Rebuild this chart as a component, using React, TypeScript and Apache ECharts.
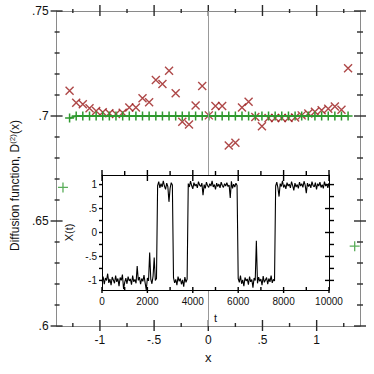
import React, { useEffect, useRef } from "react";
import * as echarts from "echarts";

// ---- main chart data ----
const X_BINS = [
  -1.28, -1.219, -1.158, -1.096, -1.035, -0.974, -0.913, -0.852, -0.79, -0.729,
  -0.668, -0.607, -0.546, -0.484, -0.423, -0.362, -0.301, -0.24, -0.178, -0.117,
  -0.056, 0.005, 0.066, 0.128, 0.189, 0.25, 0.311, 0.372, 0.434, 0.495,
  0.556, 0.617, 0.678, 0.74, 0.801, 0.862, 0.923, 0.984, 1.046, 1.107,
  1.168, 1.229, 1.29,
];
const RED_D2 = [
  0.712, 0.7063, 0.7056, 0.7037, 0.7024, 0.7018, 0.7013, 0.701, 0.7016, 0.7041,
  0.704, 0.7084, 0.7065, 0.7171, 0.7152, 0.7216, 0.7108, 0.6973, 0.696, 0.705,
  0.7143, 0.7003, 0.7048, 0.7048, 0.686, 0.6873, 0.7041, 0.7068, 0.6995, 0.6951,
  0.699, 0.699, 0.699, 0.699, 0.6993, 0.7003, 0.7012, 0.702, 0.7027, 0.7035,
  0.7045, 0.703, 0.7227,
];
const GREEN_D2 = [
  0.699, 0.7, 0.7, 0.7, 0.7, 0.7, 0.7, 0.7, 0.7, 0.7,
  0.7, 0.7, 0.7, 0.7, 0.7, 0.7, 0.7, 0.7, 0.7, 0.7,
  0.7, 0.7, 0.7, 0.7, 0.7, 0.7, 0.7, 0.7, 0.7, 0.7,
  0.7, 0.7, 0.7, 0.7, 0.7, 0.7, 0.7, 0.7, 0.7, 0.7,
  0.7, 0.7, 0.7,
];
const GREEN_END_X = [-1.341, 1.351];
const GREEN_END_Y = [0.666, 0.638];

const X_MIN = -1.4;
const X_MAX = 1.4;
const Y_MIN = 0.6;
const Y_MAX = 0.75;
const X_MAJOR = [-1, -0.5, 0, 0.5, 1];
const X_MINOR = [-1.25, -0.75, -0.25, 0.25, 0.75, 1.25];
const Y_MAJOR = [0.6, 0.65, 0.7, 0.75];
const Y_MINOR = [0.61, 0.62, 0.63, 0.64, 0.66, 0.67, 0.68, 0.69, 0.71, 0.72, 0.73, 0.74];

// ---- inset data: X(t), sampled every T_STEP ----
const T_STEP = 50;
const TRACE = [
  // t 0 - 2400 (low)
  -1.02, -0.92, -1.08, -0.95, -1.0, -0.86, -1.05, -0.97, -1.1, -0.93,
  -0.99, -1.06, -0.9, -1.03, -0.96, -1.12, -0.94, -1.0, -0.88, -1.18,
  -1.04, -0.95, -1.07, -0.92, -1.01, -0.97, -1.09, -0.9, -1.03, -0.98,
  -1.06, -0.7, -1.0, -0.93, -1.08, -0.96, -1.02, -0.89, -1.05, -1.2,
  -0.95, -1.01, -0.42, -0.98, -1.07, -0.91, -0.52, -1.0, -0.96,
  // t 2450 - 3100 (high)
  0.98, 1.06, 0.93, 1.02, 0.95, 1.08, 0.97, 0.9, 1.03, 0.96, 0.64, 0.92, 1.04, 0.99,
  // t 3150 - 3750 (low)
  -0.94, -1.05, -0.98, -1.1, -0.92, -1.02, -0.96, -1.08, -0.99, -1.13, -0.93, -1.04, -0.97,
  // t 3800 - 5950 (high)
  1.02, 0.95, 1.07, 0.98, 0.91, 1.04, 0.97, 1.01, 0.93, 1.06,
  0.99, 0.96, 1.03, 0.78, 1.0, 0.92, 1.05, 0.98, 0.94, 1.02,
  0.97, 1.08, 0.95, 1.0, 0.9, 1.03, 0.96, 1.01, 0.93, 1.05,
  0.98, 0.94, 1.02, 0.97, 1.04, 0.96, 0.99, 0.72, 1.07, 0.92,
  1.01, 0.95, 1.03, 0.98,
  // t 6000 - 7600 (low)
  -0.96, -1.04, -0.9, -1.07, -0.99, -1.12, -0.94, -1.01, -0.97, -1.09,
  -0.92, -1.03, -0.98, -1.15, -0.95, -1.0, -0.17, -1.06, -0.93, -1.02,
  -0.97, -1.1, -0.91, -1.04, -0.99, -0.94, -1.08, -0.96, -1.03, -0.9,
  -1.05, -0.98, -1.01,
  // t 7650 - 10000 (high)
  0.97, 1.05, 0.93, 0.75, 1.02, 0.96, 1.08, 0.94, 1.0, 0.91,
  1.04, 0.97, 1.01, 0.93, 1.06, 0.98, 0.88, 1.03, 0.95, 1.0,
  0.92, 1.05, 0.97, 1.02, 0.94, 1.07, 0.99, 0.82, 1.03, 0.96,
  1.01, 0.93, 1.06, 0.98, 0.95, 1.04, 0.9, 1.02, 0.97, 1.05,
  0.94, 1.0, 0.92, 1.06, 0.97, 1.01, 0.93, 1.03,
];
const T_MIN = 0;
const T_MAX = 10000;
const XT_MIN = -1.2;
const XT_MAX = 1.2;
const T_MAJOR = [0, 2000, 4000, 6000, 8000, 10000];
const T_MINOR = [1000, 3000, 5000, 7000, 9000];
const XT_MAJOR = [-1, -0.5, 0, 0.5, 1];
const XT_MINOR = [-0.75, -0.25, 0.25, 0.75];

const FONT = "'Liberation Sans', Arial, Helvetica, sans-serif";
const RED = "#9a1a1a";
const GREEN = "#2f992f";
const MAIN_LINE = "#8a8a8a";
const MAIN_TICK = "#2a2a2a";
const INSET_LINE = "#000";
const TICK_W = 1.4;

const fmt = (v: number) => String(v).replace(/^(-?)0\./, "$1.");

// Tick marks as thin filled rectangles placed through the axis scales (api.coord),
// so that they can cross the axis line on both sides.
function tickSeries(
  axisIndex: number,
  side: string,
  values: number[],
  edge: number,
  inLen: number,
  outLen: number,
  color: string,
  z: number
) {
  const horizontal = side === "bottom" || side === "top";
  return {
    type: "custom",
    xAxisIndex: axisIndex,
    yAxisIndex: axisIndex,
    z,
    data: values.map((v) => (horizontal ? [v, edge] : [edge, v])),
    renderItem: (_p: any, api: any) => {
      const pt = api.coord([api.value(0), api.value(1)]);
      const x = pt[0];
      const y = pt[1];
      let shape: any;
      if (side === "bottom") shape = { x: x - TICK_W / 2, y: y - inLen, width: TICK_W, height: inLen + outLen };
      else if (side === "top") shape = { x: x - TICK_W / 2, y: y - outLen, width: TICK_W, height: inLen + outLen };
      else if (side === "left") shape = { x: x - outLen, y: y - TICK_W / 2, width: inLen + outLen, height: TICK_W };
      else shape = { x: x - inLen, y: y - TICK_W / 2, width: inLen + outLen, height: TICK_W };
      return { type: "rect", shape, style: { fill: color } };
    },
  };
}

export default function App() {
  const ref = useRef<HTMLDivElement>(null);

  useEffect(() => {
    if (!ref.current) return;
    const chart = echarts.init(ref.current, null, { renderer: "svg" });

    const lineAxis = (base: any, color: string, extra: any = {}) => ({
      type: "value",
      ...base,
      axisLine: { show: true, onZero: false, lineStyle: { color, width: 1 } },
      axisTick: { show: false },
      axisLabel: { show: false },
      splitLine: { show: false },
      ...extra,
    });

    const xAxis: any[] = [
      lineAxis({ gridIndex: 0, position: "bottom", min: X_MIN, max: X_MAX }, MAIN_LINE, {
        axisLabel: { show: true, customValues: X_MAJOR, formatter: fmt, margin: 8, color: "#111", fontSize: 12, fontFamily: FONT },
        name: "x",
        nameLocation: "middle",
        nameGap: 24,
        nameTextStyle: { color: "#111", fontSize: 13, fontFamily: FONT },
      }),
      lineAxis({ gridIndex: 0, position: "top", min: X_MIN, max: X_MAX }, MAIN_LINE),
      lineAxis({ gridIndex: 1, position: "bottom", min: T_MIN, max: T_MAX, z: 11 }, INSET_LINE, {
        axisLabel: { show: true, customValues: T_MAJOR, formatter: (v: number) => String(v), margin: 6, color: "#111", fontSize: 10, fontFamily: FONT },
        name: "t",
        nameLocation: "middle",
        nameGap: 22,
        nameTextStyle: { color: "#111", fontSize: 11, fontFamily: FONT },
      }),
      lineAxis({ gridIndex: 1, position: "top", min: T_MIN, max: T_MAX, z: 11 }, INSET_LINE),
    ];

    const yAxis: any[] = [
      lineAxis({ gridIndex: 0, position: "left", min: Y_MIN, max: Y_MAX }, MAIN_LINE, {
        axisLabel: { show: true, customValues: Y_MAJOR, formatter: fmt, margin: 8, color: "#111", fontSize: 12, fontFamily: FONT },
        name: "Diffusion function, D{sup|(2)}(x)",
        nameLocation: "middle",
        nameGap: 30,
        nameTextStyle: {
          color: "#111",
          fontSize: 12,
          fontFamily: FONT,
          padding: [0, 34, 0, 0],
          rich: { sup: { fontSize: 8, fontFamily: FONT, color: "#111", padding: [0, 0, 6, 0] } },
        },
      }),
      lineAxis({ gridIndex: 0, position: "right", min: Y_MIN, max: Y_MAX }, MAIN_LINE),
      lineAxis({ gridIndex: 1, position: "left", min: XT_MIN, max: XT_MAX, z: 11 }, INSET_LINE, {
        axisLabel: { show: true, customValues: XT_MAJOR, formatter: fmt, margin: 5, color: "#111", fontSize: 10, fontFamily: FONT },
        name: "X(t)",
        nameLocation: "middle",
        nameGap: 23,
        nameTextStyle: { color: "#111", fontSize: 11, fontFamily: FONT },
      }),
      lineAxis({ gridIndex: 1, position: "right", min: XT_MIN, max: XT_MAX, z: 11 }, INSET_LINE),
    ];

    const crossPath = "path://M0,0L10,10M10,0L0,10";
    const plusPath = "path://M5,0L5,10M0,5L10,5";

    // axis index 0 = main chart, 2 = inset
    const ticks = [
      tickSeries(0, "bottom", X_MAJOR, Y_MIN, 6, 5, MAIN_TICK, 4),
      tickSeries(0, "bottom", X_MINOR, Y_MIN, 3, 1, MAIN_TICK, 4),
      tickSeries(0, "top", X_MAJOR, Y_MAX, 5, 6, MAIN_TICK, 4),
      tickSeries(0, "top", X_MINOR, Y_MAX, 2, 2, MAIN_TICK, 4),
      tickSeries(0, "left", Y_MAJOR, X_MIN, 6, 6, MAIN_TICK, 4),
      tickSeries(0, "left", Y_MINOR, X_MIN, 3, 2, MAIN_TICK, 4),
      tickSeries(0, "right", Y_MAJOR, X_MAX, 6, 6, MAIN_TICK, 4),
      tickSeries(0, "right", Y_MINOR, X_MAX, 3, 3, MAIN_TICK, 4),
      tickSeries(2, "bottom", T_MAJOR, XT_MIN, 3, 3, INSET_LINE, 13),
      tickSeries(2, "bottom", T_MINOR, XT_MIN, 3, 0, INSET_LINE, 13),
      tickSeries(2, "top", T_MAJOR, XT_MAX, 6, 5, INSET_LINE, 13),
      tickSeries(2, "top", T_MINOR, XT_MAX, 0, 4, INSET_LINE, 13),
      tickSeries(2, "left", XT_MAJOR, T_MIN, 0, 3, INSET_LINE, 13),
      tickSeries(2, "left", XT_MINOR, T_MIN, 0, 3, INSET_LINE, 13),
      tickSeries(2, "right", XT_MAJOR, T_MAX, 4, 5, INSET_LINE, 13),
      tickSeries(2, "right", XT_MINOR, T_MAX, 0, 5, INSET_LINE, 13),
    ];

    chart.setOption({
      animation: false,
      grid: [
        { left: 49, top: 11, width: 311, height: 315, show: false },
        { left: 102, top: 175, width: 227, height: 115, show: true, backgroundColor: "#fff", borderWidth: 0, z: 10 },
      ],
      xAxis,
      yAxis,
      series: [
        {
          type: "scatter",
          xAxisIndex: 0,
          yAxisIndex: 0,
          z: 2,
          data: X_BINS.map((x, i) => [x, RED_D2[i]]),
          symbol: crossPath,
          symbolSize: 8,
          itemStyle: { color: "rgba(0,0,0,0)", borderColor: RED, borderWidth: 1.4 },
          markLine: {
            silent: true,
            symbol: ["none", "none"],
            label: { show: false },
            lineStyle: { color: "#999", type: "solid", width: 1 },
            data: [{ xAxis: 0 }],
          },
        },
        {
          type: "line",
          xAxisIndex: 0,
          yAxisIndex: 0,
          z: 3,
          data: X_BINS.map((x, i) => [x, GREEN_D2[i]]),
          showAllSymbol: true,
          symbol: plusPath,
          symbolSize: 9,
          lineStyle: { color: GREEN, width: 1.8 },
          itemStyle: { color: "rgba(0,0,0,0)", borderColor: GREEN, borderWidth: 1.5 },
        },
        {
          type: "scatter",
          xAxisIndex: 0,
          yAxisIndex: 0,
          z: 3,
          data: GREEN_END_X.map((x, i) => [x, GREEN_END_Y[i]]),
          symbol: plusPath,
          symbolSize: 10,
          itemStyle: { color: "rgba(0,0,0,0)", borderColor: GREEN, borderWidth: 1.3 },
        },
        {
          type: "line",
          xAxisIndex: 2,
          yAxisIndex: 2,
          z: 12,
          data: TRACE.map((v, i) => [i * T_STEP, v]),
          symbol: "none",
          lineStyle: { color: "#000", width: 1.1 },
          markLine: {
            silent: true,
            symbol: ["none", "none"],
            label: { show: false },
            lineStyle: { color: "#222", type: "solid", width: 0.8 },
            data: [{ yAxis: 0 }],
          },
        },
        ...ticks,
      ],
    });

    return () => chart.dispose();
  }, []);

  return (
    <div
      ref={ref}
      style={{ position: "absolute", left: 0, top: 0, width: 374, height: 374, background: "#fff" }}
    />
  );
}
